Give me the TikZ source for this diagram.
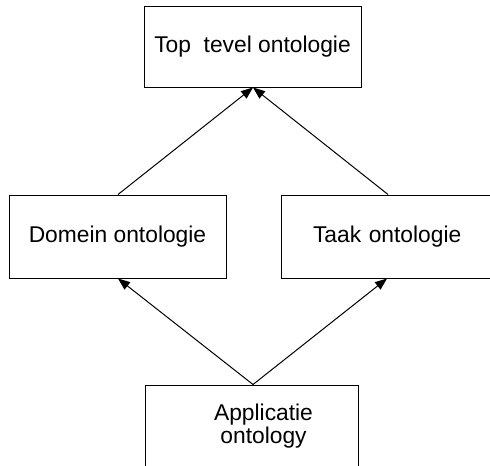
\documentclass[tikz,border=0pt]{standalone}
\usepackage{fontspec}
\setmainfont{Liberation Sans}
\usetikzlibrary{arrows.meta}
\begin{document}
\begin{tikzpicture}[x=0.5pt,y=-0.5pt,
  box/.style={draw=black,line width=0.5pt,rectangle,inner sep=0pt,
    font=\fontsize{11.4}{11.4}\selectfont},
  arr/.style={line width=0.5pt,-{Triangle[length=6pt,width=4.6pt]}}]
\useasboundingbox (0,0) rectangle (490,465);
\clip (0,0) rectangle (490,465);
\node[box,minimum width=108.5pt,minimum height=40pt] (top) at (252.5,47) {Top~~tevel ontologie};
\node[box,minimum width=108.5pt,minimum height=41.5pt] (dom) at (117.5,236.5) {Domein ontologie};
\node[box,minimum width=114pt,minimum height=41.5pt,text width=100pt,align=left] (taak) at (395,236.5) {\hspace*{9pt}Taak ontologie};
\node[box,minimum width=106.5pt,minimum height=45pt] (app) at (252,430) {};
\node[font=\fontsize{11.4}{11.3}\selectfont,align=center,inner sep=0pt] (apptext) at (263.5,426) {Applicatie\\ontology};
\draw[arr] (dom.north -| 118,0) -- (top.south -| 253,0);
\draw[arr] (taak.north -| 388,0) -- (top.south -| 253,0);
\draw[arr] (app.north -| 253,0) -- (dom.south -| 118,0);
\draw[arr] (app.north -| 253,0) -- (taak.south -| 387,0);
\end{tikzpicture}
\end{document}
